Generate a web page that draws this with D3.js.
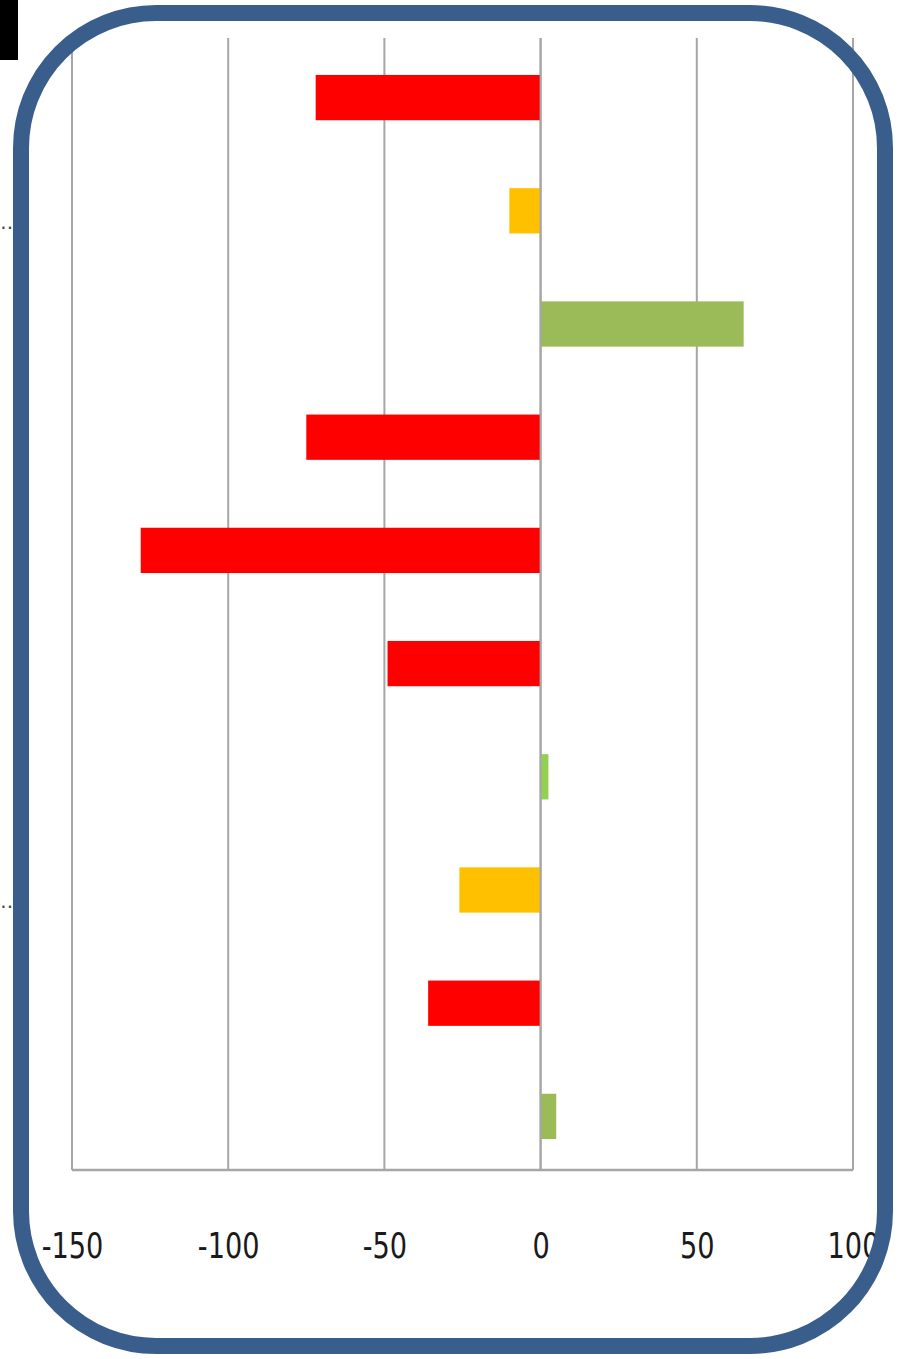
<!DOCTYPE html>
<html>
<head>
<meta charset="utf-8">
<script src="https://cdn.jsdelivr.net/npm/d3@7"></script>
<style>
  body { margin: 0; background: #fff; }
  svg { display: block; }
</style>
</head>
<body>
<svg width="904" height="1359"></svg>
<script>
var categories = ["c1", "c2", "c3", "c4", "c5", "c6", "c7", "c8", "c9", "c10"];
var values = [-72, -10, 65, -75, -128, -49, 2.5, -26, -36, 5];
var barColors = ["#ff0000", "#ffc000", "#9bbb59", "#ff0000", "#ff0000", "#ff0000", "#92d050", "#ffc000", "#ff0000", "#9bbb59"];
var tickValues = [-150, -100, -50, 0, 50, 100];
// only two category labels show, cut off at the left edge
var shownLabels = { c2: "...", c8: "..." };

var svg = d3.select("svg"),
    width = +svg.attr("width"),
    height = +svg.attr("height");

var x = d3.scaleLinear().domain([-150, 100]).range([72, 853]);
var y = d3.scaleBand().domain(categories).range([41, 1173]).paddingInner(0.6).paddingOuter(0.3);

// black block top-left
svg.append("rect").attr("x", 0).attr("y", 0).attr("width", 18).attr("height", 60).attr("fill", "#000");

// gridlines
svg.append("g")
  .selectAll("line")
  .data(tickValues)
  .enter().append("line")
  .attr("x1", d => x(d)).attr("x2", d => x(d))
  .attr("y1", 38).attr("y2", 1170)
  .attr("stroke", "#a6a6a6").attr("stroke-width", 2);

// bottom axis line
svg.append("line")
  .attr("x1", x(-150)).attr("x2", x(100))
  .attr("y1", 1170).attr("y2", 1170)
  .attr("stroke", "#a6a6a6").attr("stroke-width", 2.5);

// bars
svg.append("g")
  .selectAll("rect")
  .data(values)
  .enter().append("rect")
  .attr("x", d => Math.min(x(0), x(d)))
  .attr("width", d => Math.abs(x(d) - x(0)))
  .attr("y", (d, i) => y(categories[i]))
  .attr("height", y.bandwidth())
  .attr("fill", (d, i) => barColors[i]);

// zero line on top of bars
svg.append("line")
  .attr("x1", x(0)).attr("x2", x(0))
  .attr("y1", 38).attr("y2", 1170)
  .attr("stroke", "#a6a6a6").attr("stroke-width", 2);

// x tick labels
var xAxis = d3.axisBottom(x).tickValues(tickValues).tickSize(0).tickPadding(0)
  .tickFormat(d => String(d));
var gx = svg.append("g").attr("transform", "translate(0,1258)").call(xAxis);
gx.select(".domain").remove();
gx.selectAll("text")
  .attr("dy", 0)
  .attr("transform", "scale(0.84,1)")
  .style("font-family", "'DejaVu Sans Condensed', 'DejaVu Sans', sans-serif")
  .style("font-size", "36px")
  .attr("fill", "#1a1a1a");

// truncated category labels
svg.append("g")
  .selectAll("text")
  .data(categories.filter(c => shownLabels[c]))
  .enter().append("text")
  .attr("x", 13)
  .attr("y", c => y(c) + y.bandwidth() / 2 + 18)
  .attr("text-anchor", "end")
  .style("font-family", "'DejaVu Sans', sans-serif")
  .style("font-size", "20px")
  .attr("fill", "#444")
  .text(c => shownLabels[c]);

// rounded frame
svg.append("rect")
  .attr("x", 21).attr("y", 13)
  .attr("width", 864).attr("height", 1333)
  .attr("rx", 135).attr("ry", 135)
  .attr("fill", "none")
  .attr("stroke", "#3a5e8c")
  .attr("stroke-width", 16);
</script>
</body>
</html>
